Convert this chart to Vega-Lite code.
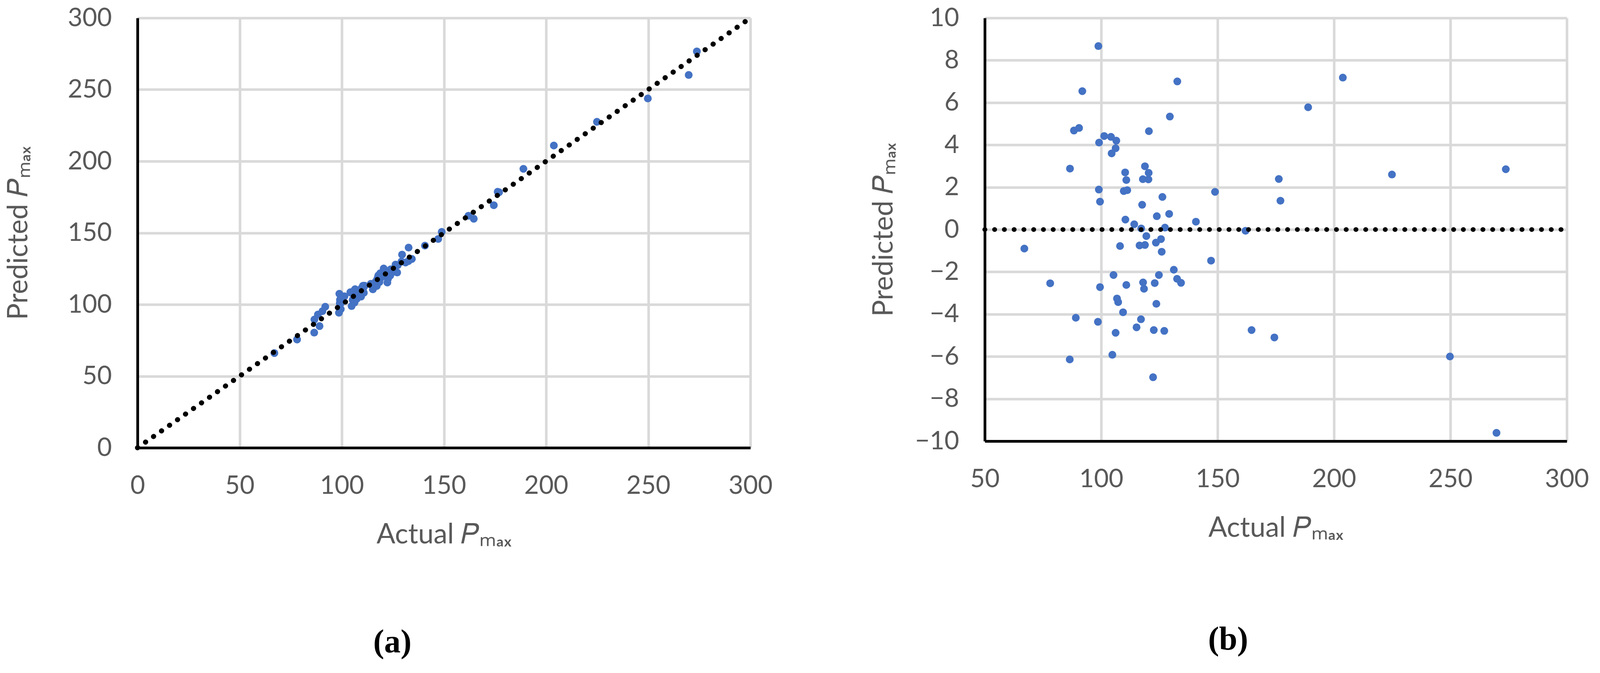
{
  "$schema": "https://vega.github.io/schema/vega-lite/v6.json",
  "background": "white",
  "padding": {"left": 12, "top": 14, "right": 80, "bottom": 10},
  "config": {
    "view": {"stroke": null},
    "axis": {
      "labelFont": "Lato", "labelFontSize": 65, "labelColor": "#595959",
      "titleFont": "Lato", "titleFontSize": 71, "titleColor": "#595959", "titleFontWeight": "normal",
      "gridColor": "#D9D9D9", "gridWidth": 6.5, "domainColor": "#000000", "domainWidth": 7,
      "ticks": false, "labelFlush": false, "labelOverlap": false, "labelPadding": 66
    },
    "title": {"font": "Liberation Serif", "fontSize": 84, "fontWeight": "bold", "color": "#000000"}
  },
  "datasets": {
    "pts": [
      {"actual": 98.8, "residual": 8.67, "predicted": 107.47},
      {"actual": 132.7, "residual": 7.0, "predicted": 139.7},
      {"actual": 91.9, "residual": 6.54, "predicted": 98.44},
      {"actual": 203.8, "residual": 7.18, "predicted": 210.98},
      {"actual": 188.9, "residual": 5.78, "predicted": 194.68},
      {"actual": 129.5, "residual": 5.34, "predicted": 134.84},
      {"actual": 90.5, "residual": 4.8, "predicted": 95.3},
      {"actual": 88.3, "residual": 4.68, "predicted": 92.98},
      {"actual": 120.5, "residual": 4.65, "predicted": 125.15},
      {"actual": 101.3, "residual": 4.42, "predicted": 105.72},
      {"actual": 104.2, "residual": 4.38, "predicted": 108.58},
      {"actual": 106.5, "residual": 4.2, "predicted": 110.7},
      {"actual": 99.1, "residual": 4.11, "predicted": 103.21},
      {"actual": 106.2, "residual": 3.84, "predicted": 110.04},
      {"actual": 104.5, "residual": 3.6, "predicted": 108.1},
      {"actual": 86.6, "residual": 2.88, "predicted": 89.48},
      {"actual": 273.8, "residual": 2.85, "predicted": 276.65},
      {"actual": 224.9, "residual": 2.6, "predicted": 227.5},
      {"actual": 118.8, "residual": 2.99, "predicted": 121.79},
      {"actual": 110.3, "residual": 2.7, "predicted": 113.0},
      {"actual": 120.4, "residual": 2.68, "predicted": 123.08},
      {"actual": 110.8, "residual": 2.34, "predicted": 113.14},
      {"actual": 117.9, "residual": 2.38, "predicted": 120.28},
      {"actual": 120.3, "residual": 2.37, "predicted": 122.67},
      {"actual": 176.3, "residual": 2.39, "predicted": 178.69},
      {"actual": 99.0, "residual": 1.89, "predicted": 100.89},
      {"actual": 109.7, "residual": 1.82, "predicted": 111.52},
      {"actual": 111.2, "residual": 1.86, "predicted": 113.06},
      {"actual": 148.9, "residual": 1.78, "predicted": 150.68},
      {"actual": 99.5, "residual": 1.32, "predicted": 100.82},
      {"actual": 177.0, "residual": 1.36, "predicted": 178.36},
      {"actual": 126.3, "residual": 1.54, "predicted": 127.84},
      {"actual": 117.6, "residual": 1.17, "predicted": 118.77},
      {"actual": 123.9, "residual": 0.63, "predicted": 124.53},
      {"actual": 129.2, "residual": 0.74, "predicted": 129.94},
      {"actual": 110.4, "residual": 0.47, "predicted": 110.87},
      {"actual": 140.7, "residual": 0.37, "predicted": 141.07},
      {"actual": 114.2, "residual": 0.25, "predicted": 114.45},
      {"actual": 117.2, "residual": 0.05, "predicted": 117.25},
      {"actual": 127.4, "residual": 0.09, "predicted": 127.49},
      {"actual": 162.0, "residual": -0.06, "predicted": 161.94},
      {"actual": 119.4, "residual": -0.31, "predicted": 119.09},
      {"actual": 125.7, "residual": -0.45, "predicted": 125.25},
      {"actual": 123.5, "residual": -0.62, "predicted": 122.88},
      {"actual": 116.5, "residual": -0.75, "predicted": 115.75},
      {"actual": 118.8, "residual": -0.73, "predicted": 118.07},
      {"actual": 108.1, "residual": -0.78, "predicted": 107.32},
      {"actual": 67.0, "residual": -0.9, "predicted": 66.1},
      {"actual": 126.0, "residual": -1.05, "predicted": 124.95},
      {"actual": 147.2, "residual": -1.47, "predicted": 145.73},
      {"actual": 131.2, "residual": -1.9, "predicted": 129.3},
      {"actual": 105.3, "residual": -2.15, "predicted": 103.15},
      {"actual": 124.8, "residual": -2.15, "predicted": 122.65},
      {"actual": 132.6, "residual": -2.33, "predicted": 130.27},
      {"actual": 134.3, "residual": -2.52, "predicted": 131.78},
      {"actual": 78.1, "residual": -2.54, "predicted": 75.56},
      {"actual": 118.0, "residual": -2.5, "predicted": 115.5},
      {"actual": 123.0, "residual": -2.53, "predicted": 120.47},
      {"actual": 110.8, "residual": -2.62, "predicted": 108.18},
      {"actual": 99.5, "residual": -2.72, "predicted": 96.78},
      {"actual": 118.4, "residual": -2.8, "predicted": 115.6},
      {"actual": 106.8, "residual": -3.26, "predicted": 103.54},
      {"actual": 107.3, "residual": -3.43, "predicted": 103.87},
      {"actual": 123.7, "residual": -3.51, "predicted": 120.19},
      {"actual": 109.4, "residual": -3.91, "predicted": 105.49},
      {"actual": 117.1, "residual": -4.24, "predicted": 112.86},
      {"actual": 89.1, "residual": -4.17, "predicted": 84.93},
      {"actual": 98.6, "residual": -4.36, "predicted": 94.24},
      {"actual": 115.2, "residual": -4.62, "predicted": 110.58},
      {"actual": 122.6, "residual": -4.75, "predicted": 117.85},
      {"actual": 127.1, "residual": -4.79, "predicted": 122.31},
      {"actual": 164.6, "residual": -4.75, "predicted": 159.85},
      {"actual": 106.2, "residual": -4.88, "predicted": 101.32},
      {"actual": 174.4, "residual": -5.1, "predicted": 169.3},
      {"actual": 104.8, "residual": -5.92, "predicted": 98.88},
      {"actual": 249.8, "residual": -6.0, "predicted": 243.8},
      {"actual": 86.5, "residual": -6.14, "predicted": 80.36},
      {"actual": 122.3, "residual": -6.98, "predicted": 115.32},
      {"actual": 269.8, "residual": -9.61, "predicted": 260.19}
    ],
    "diag": [{"a": 0, "p": 0}, {"a": 300, "p": 300}],
    "zero": [{"a": 50, "r": 0}, {"a": 300, "r": 0}]
  },
  "bounds": "flush",
  "spacing": 600,
  "hconcat": [
    {
      "width": 1569,
      "height": 1101,
      "title": {"text": "(a)", "orient": "bottom", "anchor": "middle", "offset": 200, "dx": -132},
      "layer": [
        {
          "data": {"name": "pts"},
          "mark": {"type": "circle", "size": 400, "color": "#4472C4", "opacity": 1},
          "encoding": {
            "x": {"field": "actual", "type": "quantitative",
                  "scale": {"domain": [0, 300], "nice": false, "zero": false},
                  "axis": {"values": [0, 50, 100, 150, 200, 250, 300], "title": "Actual 𝑃ₘₐₓ", "titlePadding": 58}},
            "y": {"field": "predicted", "type": "quantitative",
                  "scale": {"domain": [0, 300], "nice": false, "zero": false},
                  "axis": {"values": [0, 50, 100, 150, 200, 250, 300], "title": "Predicted 𝑃ₘₐₓ", "titlePadding": 88}}
          }
        },
        {
          "data": {"name": "diag"},
          "mark": {"type": "line", "color": "#000000", "strokeWidth": 13, "strokeDash": [0.5, 24.5], "strokeCap": "round"},
          "encoding": {
            "x": {"field": "a", "type": "quantitative"},
            "y": {"field": "p", "type": "quantitative"}
          }
        }
      ]
    },
    {
      "width": 1490,
      "height": 1084,
      "title": {"text": "(b)", "orient": "bottom", "anchor": "middle", "offset": 210, "dx": -122},
      "layer": [
        {
          "data": {"name": "pts"},
          "mark": {"type": "circle", "size": 400, "color": "#4472C4", "opacity": 1},
          "encoding": {
            "x": {"field": "actual", "type": "quantitative",
                  "scale": {"domain": [50, 300], "nice": false, "zero": false},
                  "axis": {"values": [50, 100, 150, 200, 250, 300], "title": "Actual 𝑃ₘₐₓ", "titlePadding": 58}},
            "y": {"field": "residual", "type": "quantitative",
                  "scale": {"domain": [-10, 10], "nice": false, "zero": false},
                  "axis": {"values": [-10, -8, -6, -4, -2, 0, 2, 4, 6, 8, 10], "title": "Predicted 𝑃ₘₐₓ", "titlePadding": 42}}
          }
        },
        {
          "data": {"name": "zero"},
          "mark": {"type": "line", "color": "#000000", "strokeWidth": 12, "strokeDash": [0.5, 24.5], "strokeCap": "round"},
          "encoding": {
            "x": {"field": "a", "type": "quantitative"},
            "y": {"field": "r", "type": "quantitative"}
          }
        }
      ]
    }
  ]
}
